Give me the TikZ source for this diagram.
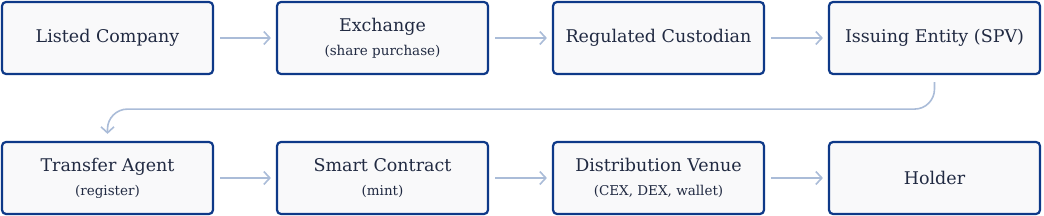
\documentclass[tikz,border=0pt]{standalone}
\usepackage{fontspec}
\setmainfont{DejaVu Serif}
\usetikzlibrary{arrows.meta,positioning}
\definecolor{flowborder}{RGB}{14,57,136}
\definecolor{flowfill}{RGB}{249,249,250}
\definecolor{flowtext}{RGB}{33,42,66}
\definecolor{flowarrow}{RGB}{170,188,216}
\newcommand{\flowsubfont}{\fontsize{13.5}{16}\selectfont}

\begin{document}
\begin{tikzpicture}[x=1pt, y=1pt,
    flowbox/.style={draw=flowborder, line width=2.2pt, rounded corners=4pt, fill=flowfill,
                    minimum width=211pt, minimum height=72pt, text=flowtext,
                    font=\fontsize{17.5}{21}\selectfont, align=center},
    flowarr/.style={draw=flowarrow, line width=1.6pt,
                    -{Straight Barb[length=6pt, width=13pt, line width=1.6pt]}}]
\useasboundingbox (0,0) rectangle (1044,216);
% Top row
\node[flowbox] (lc) at (107.5,178) {Listed Company};
\node[flowbox] (ex) at (382.5,178) {Exchange\\[3pt]{\flowsubfont(share purchase)}};
\node[flowbox] (rc) at (658.5,178) {Regulated Custodian};
\node[flowbox] (ie) at (934.5,178) {Issuing Entity (SPV)};
% Bottom row
\node[flowbox] (ta) at (107.5,38) {Transfer Agent\\[3pt]{\flowsubfont(register)}};
\node[flowbox] (sc) at (382.5,38) {Smart Contract\\[3pt]{\flowsubfont(mint)}};
\node[flowbox] (dv) at (658.5,38) {Distribution Venue\\[3pt]{\flowsubfont(CEX, DEX, wallet)}};
\node[flowbox] (ho) at (934.5,38) {Holder};
% Arrows
\foreach \a/\b in {lc/ex, ex/rc, rc/ie, ta/sc, sc/dv, dv/ho}
  \draw[flowarr, shorten <=6pt, shorten >=5pt] (\a) -- (\b);
% Wrap to next row
\draw[flowarr, rounded corners=20pt, shorten <=7pt, shorten >=7pt]
  (ie.south) -- ++(0,-34) -| (ta.north);
\end{tikzpicture}
\end{document}
